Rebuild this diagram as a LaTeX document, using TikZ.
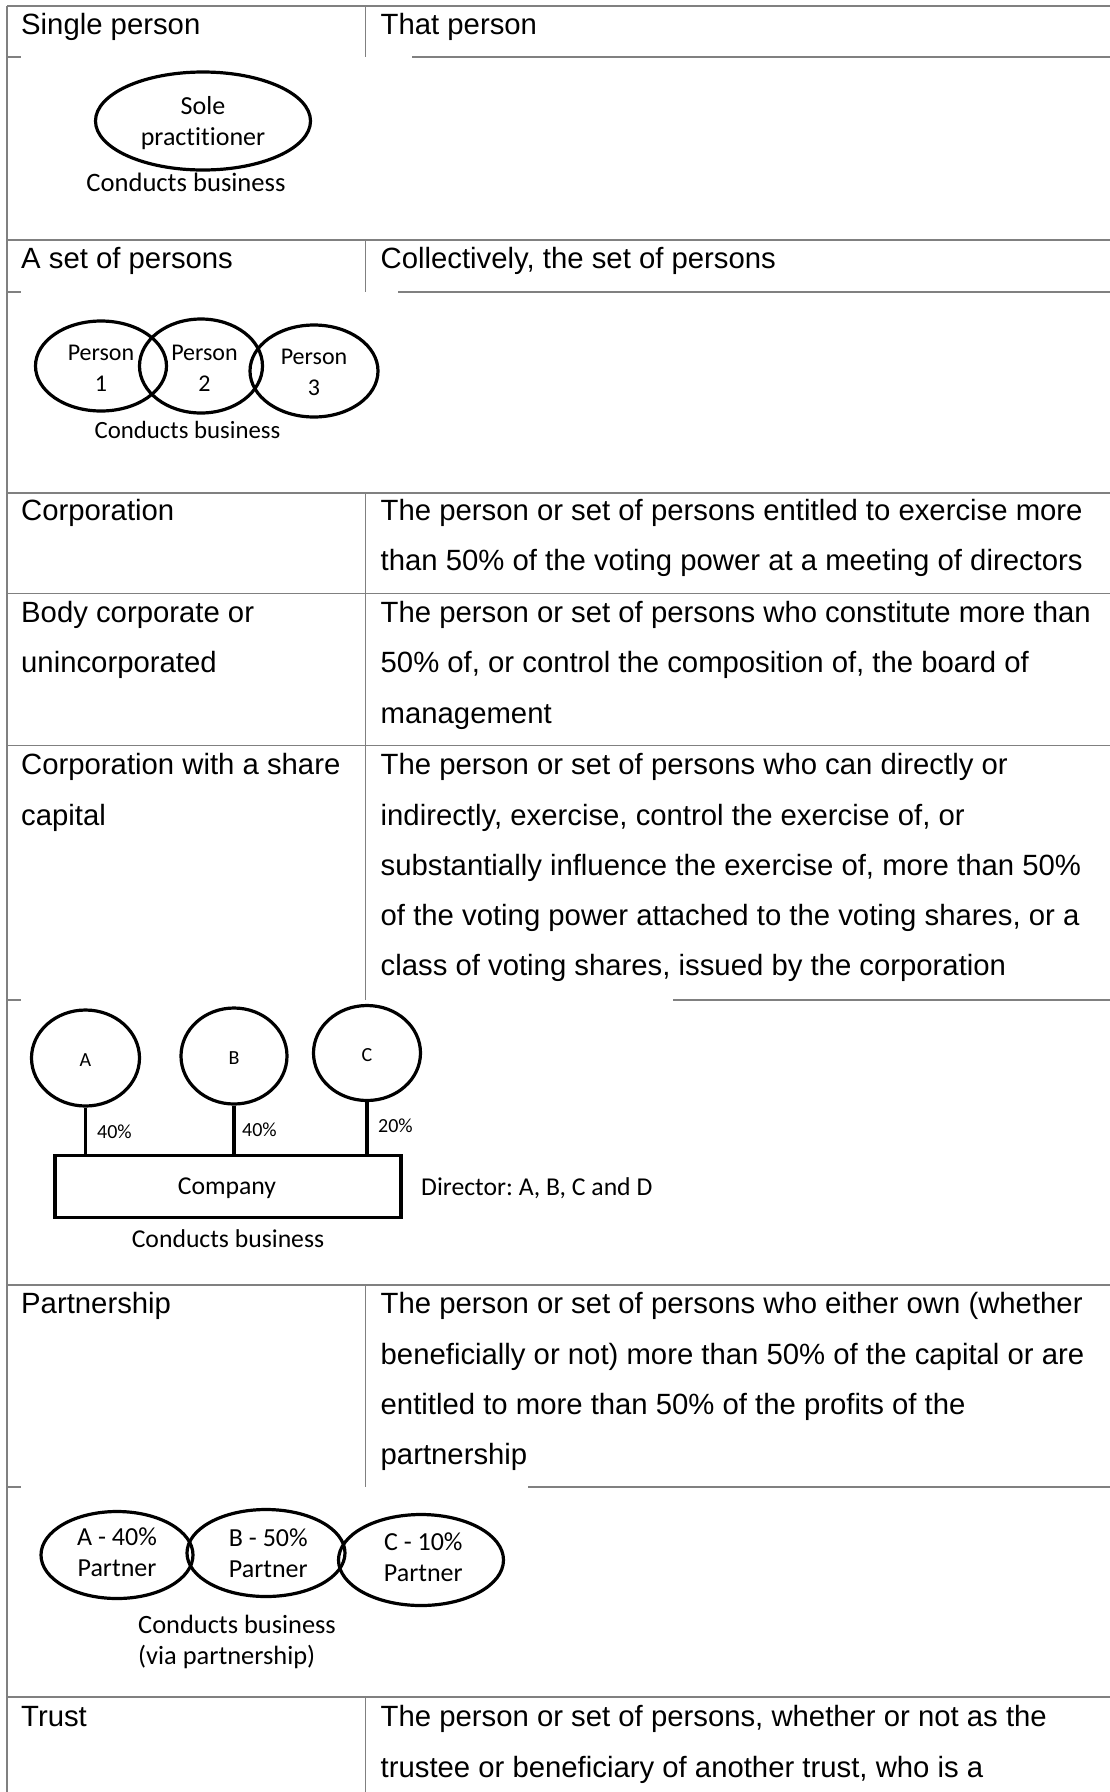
\documentclass[tikz,border=0pt]{standalone}
\usepackage{fontspec}
\usetikzlibrary{shapes.geometric}
\newfontfamily\arialf{Liberation Sans}
\newfontfamily\calf[Ligatures=CommonOff]{Carlito}
\definecolor{tablegray}{RGB}{128,128,128}
\newcommand\tabfont{\arialf\fontsize{29.3}{50.3}\selectfont}
\newcommand\figfont{\calf\fontsize{26}{31.5}\selectfont}
\newcommand\personfont{\calf\fontsize{24}{31}\selectfont}
\newcommand\smallfig{\calf\fontsize{20}{24}\selectfont}
\newcommand\midfig{\calf\fontsize{25.7}{30}\selectfont}
\frenchspacing

\begin{document}
\begin{tikzpicture}[x=1pt,y=-1pt,
  rule/.style={draw=tablegray, line width=1.6pt},
  cell/.style={anchor=north west, inner sep=0pt, align=left, font=\tabfont},
  blob/.style={ellipse, draw, line width=3.2pt, inner sep=0pt},
  inner/.style={inner sep=0pt, align=center},
  lbl/.style={inner sep=0pt},
  link/.style={line width=3.2pt}]
\useasboundingbox (0,0) rectangle (1110,1792);

% ---- table rules ----
\draw[rule] (7,6) -- (1110,6);
\draw[rule] (7,6) -- (7,1792);
\draw[rule] (365.5,6) -- (365.5,57);
\draw[rule] (7,57) -- (21,57);
\draw[rule] (412,57) -- (1110,57);
\draw[rule] (7,240) -- (1110,240);
\draw[rule] (365.5,240) -- (365.5,292);
\draw[rule] (7,292) -- (21,292);
\draw[rule] (398,292) -- (1110,292);
\draw[rule] (7,493) -- (1110,493);
\draw[rule] (365.5,493) -- (365.5,1000);
\draw[rule] (7,593.3) -- (1110,593.3);
\draw[rule] (7,745.5) -- (1110,745.5);
\draw[rule] (7,1000) -- (21,1000);
\draw[rule] (673,1000) -- (1110,1000);
\draw[rule] (7,1285) -- (1110,1285);
\draw[rule] (365.5,1285) -- (365.5,1487);
\draw[rule] (7,1487) -- (21,1487);
\draw[rule] (528,1487) -- (1110,1487);
\draw[rule] (7,1697) -- (1110,1697);
\draw[rule] (365.5,1697) -- (365.5,1792);

% ---- table text (node top = first baseline - strut height) ----
\node[cell] (t1l) at (21,-1.2) {\strut Single person};
\node[cell] (t1r) at (380.5,-1.2) {\strut That person};
\node[cell] (t2l) at (21,232.8) {\strut A set of persons};
\node[cell] (t2r) at (380.5,232.8) {\strut Collectively, the set of persons};
\node[cell] (t3l) at (21,484.8) {\strut Corporation};
\node[cell] (t3r) at (380.5,484.8) {\strut The person or set of persons entitled to exercise more\\
  than 50\% of the voting power at a meeting of directors};
\node[cell] (t4l) at (21,587) {\strut Body corporate or\\unincorporated};
\node[cell] (t4r) at (380.5,587) {\strut The person or set of persons who constitute more than\\
  50\% of, or control the composition of, the board of\\management};
\node[cell] (t5l) at (21,739.3) {\strut Corporation with a share\\capital};
\node[cell] (t5r) at (380.5,739.3) {\strut The person or set of persons who can directly or\\
  indirectly, exercise, control the exercise of, or\\
  substantially influence the exercise of, more than 50\%\\
  of the voting power attached to the voting shares, or a\\
  class of voting shares, issued by the corporation};
\node[cell] (t6l) at (21,1278.3) {\strut Partnership};
\node[cell] (t6r) at (380.5,1278.3) {\strut The person or set of persons who either own (whether\\
  beneficially or not) more than 50\% of the capital or are\\
  entitled to more than 50\% of the profits of the\\partnership};
\node[cell] (t7l) at (21,1691.5) {\strut Trust};
\node[cell] (t7r) at (380.5,1691.5) {\strut The person or set of persons, whether or not as the\\
  trustee or beneficiary of another trust, who is a};

% ---- sole practitioner ----
\node[blob, minimum width=215pt, minimum height=98pt] (sole) at (203,121) {};
\node[inner, font=\figfont] (solet) at ([yshift=-2.3pt]sole.center) {Sole\\practitioner};
\node[lbl, font=\calf\fontsize{26.6}{31}\selectfont, anchor=base] (solebiz) at (186,191.7) {Conducts business};

% ---- set of persons ----
\node[blob, minimum width=131pt, minimum height=90pt] (p1) at (101,366) {};
\node[blob, minimum width=123pt, minimum height=94pt] (p2) at (201,366) {};
\node[blob, minimum width=128pt, minimum height=92pt] (p3) at (314,371) {};
\node[inner, font=\personfont] (p1t) at ([yshift=-2.3pt]p1.center) {Person\\1};
\node[inner, font=\personfont] (p2t) at ([xshift=3.5pt,yshift=-2.3pt]p2.center) {Person\\2};
\node[inner, font=\personfont] (p3t) at ([yshift=-1.7pt]p3.center) {Person\\3};
\node[lbl, font=\calf\fontsize{24.8}{30}\selectfont, anchor=base] (setbiz) at (187.5,438.5) {Conducts business};

% ---- company and shareholders ----
\node[blob, minimum width=108pt, minimum height=96pt] (ca) at (85.5,1058) {};
\node[blob, minimum width=106pt, minimum height=96pt] (cb) at (234,1056) {};
\node[blob, minimum width=107pt, minimum height=95pt] (cc) at (367,1053) {};
\node[inner, font=\smallfig] (cat) at ([yshift=-2.3pt]ca.center) {A};
\node[inner, font=\smallfig] (cbt) at ([yshift=-2.3pt]cb.center) {B};
\node[inner, font=\smallfig] (cct) at ([yshift=-2.3pt]cc.center) {C};
\node[draw, line width=3.2pt, minimum width=346pt, minimum height=62pt, inner sep=0pt] (co) at (228,1186.5) {};
\node[lbl, font=\midfig, anchor=base] (cot) at (227,1194) {Company};
\draw[link] (ca.south) -- (ca.south |- co.north);
\draw[link] (cb.south) -- (cb.south |- co.north);
\draw[link] (cc.south) -- (cc.south |- co.north);
\node[lbl, font=\smallfig, anchor=base west] (pca) at (97,1138.3) {40\%};
\node[lbl, font=\smallfig, anchor=base west] (pcb) at (242,1136.7) {40\%};
\node[lbl, font=\smallfig, anchor=base west] (pcc) at (378,1132.7) {20\%};
\node[lbl, font=\midfig, anchor=base west] (dir) at (421,1195) {Director: A, B, C and D};
\node[lbl, font=\midfig, anchor=base] (cobiz) at (228,1247.3) {Conducts business};

% ---- partnership ----
\node[blob, minimum width=152pt, minimum height=87pt] (pa) at (117,1555) {};
\node[blob, minimum width=158pt, minimum height=87pt] (pb) at (266,1553) {};
\node[blob, minimum width=165pt, minimum height=91pt] (pc) at (421,1560) {};
\node[inner, font=\figfont] (pat) at ([yshift=2.9pt]pa.center) {A - 40\%\\Partner};
\node[inner, font=\figfont] (pbt) at ([xshift=2.3pt]pb.center) {B - 50\%\\Partner};
\node[inner, font=\figfont] (pct) at ([xshift=2.3pt,yshift=2.9pt]pc.center) {C - 10\%\\Partner};
\node[lbl, font=\calf\fontsize{26.4}{31}\selectfont, anchor=north west, align=left] (ptbiz) at (138,1611.6)
  {\strut Conducts business\\(via partnership)};
\end{tikzpicture}
\end{document}
